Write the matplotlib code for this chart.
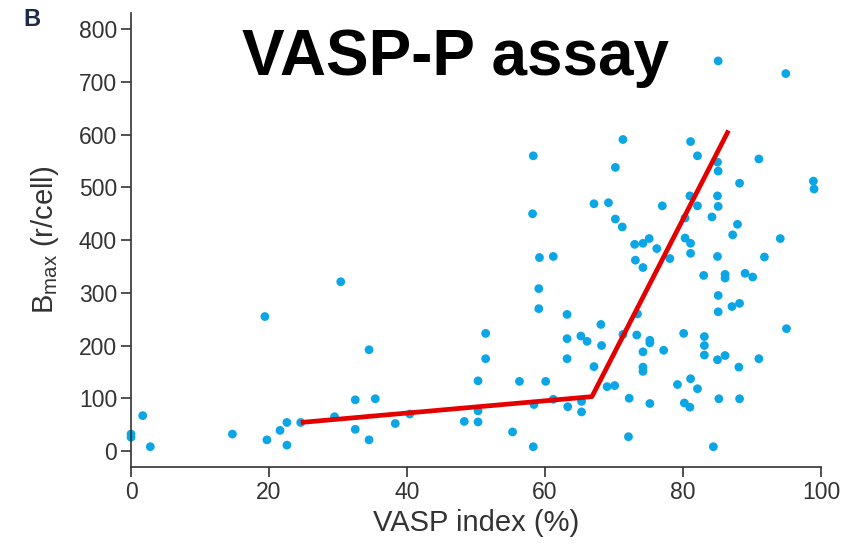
import matplotlib
matplotlib.use("Agg")
import matplotlib.pyplot as plt
import numpy as np

plt.rcParams['font.family'] = ['Liberation Sans', 'DejaVu Sans']

# ---- data (VASP index %, Bmax r/cell) ----
vasp_x = [0, 0, 1.7, 2.8, 14.7, 19.4, 19.7, 21.6, 22.6, 22.6, 24.6, 29.5, 30.4, 32.5, 32.5,
          34.5, 34.5, 35.4, 38.3, 40.4,
          48.3, 50.3, 50.3, 50.3, 51.4, 51.4, 55.3, 56.3, 58.3, 58.4, 58.3, 58.2, 59.2, 61.2,
          59.1, 59.1, 60.1, 61.2, 63.2, 63.2, 63.2, 63.3, 65.2, 66.1, 65.3, 65.3, 67.1, 67.1,
          68.1, 68.2, 69.0, 70.1,
          69.2, 70.2, 70.2, 71.3, 71.2, 71.3, 72.2, 72.1, 73.0, 74.2, 75.1, 76.2, 73.1, 74.2,
          73.3, 73.4, 74.2, 74.2, 74.2, 75.2, 75.2, 75.2, 77.0, 77.2, 78.1, 79.2,
          80.3, 80.3, 80.1, 80.2, 81.1, 81.0, 81.1, 81.1, 81.1, 81.0, 82.1, 82.1, 82.1, 83.0,
          83.1, 83.1, 83.1, 84.2, 84.4,
          85.1, 85.0, 85.1, 85.0, 85.1, 85.0, 85.1, 85.1, 85.0, 85.2, 86.1, 86.1, 86.1, 87.2,
          87.1, 87.9, 88.2, 88.2, 88.1, 88.2, 89.0, 90.1, 91.0, 91.0, 91.8, 94.1, 94.9, 95.0,
          98.9, 99.0]
bmax_y = [32, 26, 67, 8, 32, 255, 21, 39, 54, 11, 54, 65, 321, 97, 41,
          21, 192, 99, 52, 70,
          56, 55, 76, 133, 175, 223, 36, 132, 8, 88, 560, 450, 367, 369,
          308, 270, 132, 98, 259, 213, 175, 84, 218, 208, 94, 74, 160, 469,
          240, 200, 122, 124,
          471, 538, 440, 591, 425, 221, 100, 27, 392, 394, 403, 384, 362, 348,
          220, 260, 188, 159, 151, 210, 205, 90, 465, 191, 365, 126,
          442, 404, 223, 91, 587, 484, 394, 375, 137, 83, 560, 465, 118, 333,
          217, 200, 182, 444, 8,
          740, 548, 531, 484, 464, 369, 295, 264, 173, 99, 335, 328, 181, 410,
          274, 430, 508, 280, 159, 99, 337, 330, 554, 175, 368, 403, 716, 232,
          512, 497]

# piecewise fit drawn in red
fit_x = [24.6, 66.8, 86.6]
fit_y = [54, 103, 608]

x_ticks = [0, 20, 40, 60, 80, 100]
y_ticks = [0, 100, 200, 300, 400, 500, 600, 700, 800]

fig = plt.figure(figsize=(8.49, 5.48), dpi=100)
ax = fig.add_axes([0.1543, 0.1478, 0.8127, 0.8285])

ax.scatter(vasp_x, bmax_y, s=40, color="#0aa6e6", edgecolors="none", zorder=2,
           clip_on=False)
ax.plot(fit_x, fit_y, color="#e50000", lw=3.4, solid_capstyle="butt", zorder=3)

ax.set_xlim(0, 100)
ax.set_ylim(-30.5, 831)
ax.set_xticks(x_ticks)
ax.set_yticks(y_ticks)
for s in ("top", "right"):
    ax.spines[s].set_visible(False)
for s in ("left", "bottom"):
    ax.spines[s].set_color("#333333")
    ax.spines[s].set_linewidth(1.2)
ax.tick_params(direction="out", length=7, width=1.2, color="#333333",
               labelsize=16.5, labelcolor="#333333", pad=3)

ax.set_xlabel("VASP index (%)", fontsize=21, color="#333333", labelpad=4)
ax.set_ylabel(r"B$_{\mathregular{max}}$ (r/cell)", fontsize=21, color="#333333", labelpad=13)

fig.text(0.537, 1 - 75 / 548, "VASP-P assay", fontsize=46, fontweight="bold",
         ha="center", va="baseline", color="black")
fig.text(0.028, 0.965, "B", fontsize=17, fontweight="bold", ha="left", va="center",
         color="#1d2a4a")

fig.savefig("out.png", dpi=100)
